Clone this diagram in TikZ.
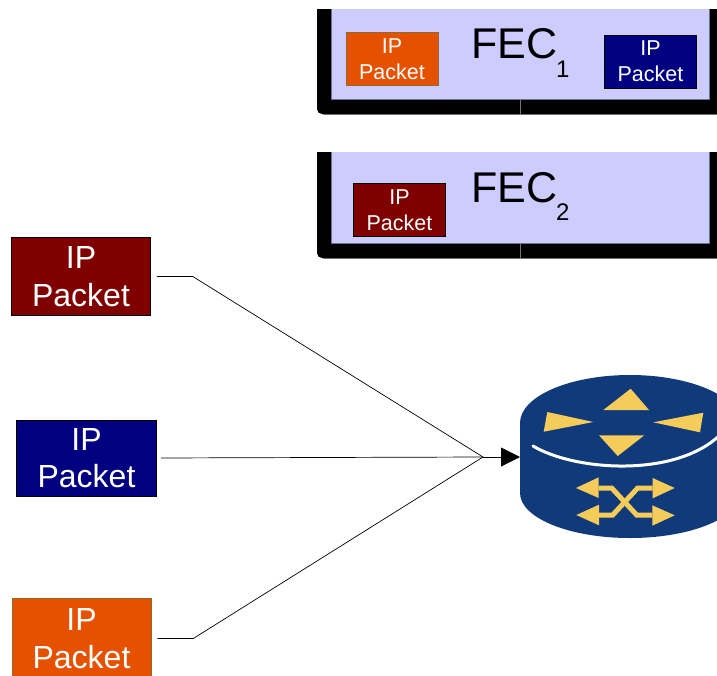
\documentclass[tikz,border=0pt]{standalone}
\usepackage{fontspec}
\setmainfont{Liberation Sans}
\usetikzlibrary{arrows.meta}
\definecolor{pktred}{HTML}{800000}
\definecolor{pktblue}{HTML}{000080}
\definecolor{pktorange}{HTML}{E65100}
\definecolor{pktedge}{HTML}{8A6A30}
\definecolor{fecfill}{HTML}{CCCCFF}
\definecolor{routerblue}{HTML}{113A7A}
\definecolor{routeryellow}{HTML}{F5CC5A}
\tikzset{
  x=1pt,y=-1pt,
  bigpkt/.style={draw=black,line width=0.6pt,inner sep=0pt,text=white,align=center,
    minimum width=139pt,minimum height=78pt,font=\fontsize{32}{38}\selectfont},
  smallpkt/.style={draw=black,line width=0.6pt,inner sep=0pt,text=white,align=center,
    minimum width=92pt,minimum height=53pt,font=\fontsize{21.5}{26}\selectfont},
  frameblack/.style={fill=black,rounded corners=5pt},
  framefill/.style={fill=fecfill},
  frameedge/.style={draw=black!45!fecfill,line width=0.5pt},
  seam/.style={draw=black!55!white,line width=0.4pt},
  feclabel/.style={inner sep=0pt,anchor=base west,font=\fontsize{43}{43}\selectfont},
  fecsub/.style={inner sep=0pt,anchor=base west,font=\fontsize{24}{24}\selectfont},
  wire/.style={draw=black,line width=0.7pt},
  feed/.style={draw=black,line width=1pt,-{Triangle[length=19pt,width=19pt]}},
  marks/.style={fill=routeryellow},
  swline/.style={draw=routeryellow,line width=5pt,line join=miter}
}
\begin{document}
\begin{tikzpicture}
\useasboundingbox (0,0) rectangle (717,675);
\begin{scope}
\clip (0,0) rectangle (717,675);
% FEC 1 frame
\path[frameblack] (317,-10) -- (317,114) -- (730,114) -- (730,-10) -- cycle;
\fill[white] (300,-1) rectangle (730,9);
\path[framefill] (331,9) rectangle (709,99);
\draw[frameedge] (331,9) -- (331,99) -- (709,99) -- (709,9);
\draw[seam] (520,99) -- (520,114);
\draw[seam] (323,114) -- (717,114);
% FEC 2 frame
\path[frameblack] (317,120) -- (317,258) -- (730,258) -- (730,120) -- cycle;
\fill[white] (300,115) rectangle (730,152);
\path[framefill] (331,152) rectangle (709,243);
\draw[frameedge] (331,152) -- (331,243) -- (709,243) -- (709,152);
\draw[seam] (520,243) -- (520,258);
\draw[seam] (323,258) -- (717,258);
% FEC labels
\node[feclabel] (fecA) at (471,58) {FEC};
\node[fecsub] (fecAsub) at (556,77) {1};
\node[feclabel] (fecB) at (471,202) {FEC};
\node[fecsub] (fecBsub) at (556,220) {2};
% packets inside the FECs
\node[smallpkt,fill=pktorange,draw=pktedge] (qa) at (392,59) {IP\\Packet};
\node[smallpkt,fill=pktblue] (qb) at (650.5,61.5) {IP\\Packet};
\node[smallpkt,fill=pktred] (qc) at (399.5,210) {IP\\Packet};
% incoming packets
\node[bigpkt,fill=pktred] (p1) at (81,276.5) {IP\\Packet};
\node[bigpkt,fill=pktblue,minimum width=140pt,minimum height=76pt,font=\fontsize{32}{36.5}\selectfont] (p2) at (86.5,458) {IP\\Packet};
\node[bigpkt,fill=pktorange,draw=pktedge,minimum height=81pt] (p3) at (81.5,638.5) {IP\\Packet};
% router body
\fill[routerblue] (520,423) -- (520,493) arc[start angle=180,end angle=0,x radius=110,y radius=45]
  -- (740,423) arc[start angle=0,end angle=-180,x radius=110,y radius=48] -- cycle;
\draw[white,line width=3pt,line cap=round] (533,446) .. controls (575,471) and (675,478) .. (720,435);
\path[marks] (603.3,410) -- (630.7,388.7) -- (649,410) -- cycle;
\path[marks] (547.3,412) -- (593.3,422) -- (543.7,431.7) -- cycle;
\path[marks] (703.3,412.7) -- (653.3,422.3) -- (700,432.3) -- cycle;
\path[marks] (599,435.3) -- (644.3,435.3) -- (617.7,456) -- cycle;
\draw[swline] (598.7,488) -- (611.7,488) -- (636.7,515) -- (652.3,515);
\draw[swline] (599,515) -- (612.7,515) -- (637.7,488) -- (652.7,488);
\path[marks] (576,488) -- (598.7,477.3) -- (598.7,498) -- cycle;
\path[marks] (576.3,515) -- (599,504.7) -- (599,525.3) -- cycle;
\path[marks] (674.7,488) -- (652.7,478) -- (652.7,498.3) -- cycle;
\path[marks] (674.7,515.3) -- (652.3,505.3) -- (652.3,525.7) -- cycle;
% connectors
\coordinate (hub) at (483,457);
\coordinate (routerport) at (520,457);
\draw[wire,shorten <=6pt] (p1.east) -- ++(42,0) -- (hub);
\draw[wire,shorten <=4pt] (p2.east) -- (hub);
\draw[wire,shorten <=6pt] (p3.east) -- ++(42,0) -- (hub);
\draw[feed] (hub) -- (routerport);
\end{scope}
\end{tikzpicture}
\end{document}
